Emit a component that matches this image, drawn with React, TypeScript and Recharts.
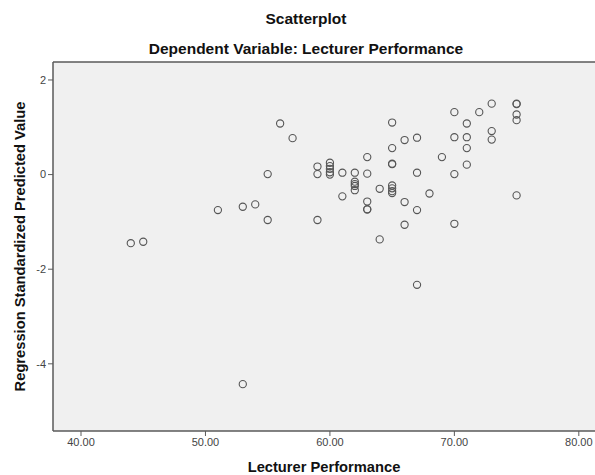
import { ScatterChart, Scatter, XAxis, YAxis, ReferenceLine, CartesianGrid, Label } from "recharts";

// Lecturer Performance (x) vs Regression Standardized Predicted Value (y)
const performance = [
  44, 45, 51, 53, 53, 54, 55, 55, 56, 57, 59, 59, 59,
  60, 60, 60, 60, 60, 61, 61, 62, 62, 62, 62, 62, 63, 63, 63, 63, 63,
  64, 64, 65, 65, 65, 65, 65, 65, 65, 65, 66, 66, 66,
  67, 67, 67, 67, 68, 69, 70, 70, 70, 70, 71, 71, 71, 71,
  72, 73, 73, 73, 75, 75, 75, 75, 75,
];
const predicted = [
  -1.45, -1.42, -0.75, -0.68, -4.43, -0.63, 0.01, -0.96, 1.08, 0.77, 0.17, 0.01, -0.96,
  0.25, 0.18, 0.12, 0.05, 0.0, 0.04, -0.46, 0.04, -0.15, -0.2, -0.24, -0.33, 0.37, 0.02, -0.57, -0.73, -0.74,
  -0.3, -1.37, 1.1, 0.56, 0.22, 0.23, -0.23, -0.29, -0.35, -0.39, 0.73, -0.58, -1.06,
  0.78, 0.04, -0.75, -2.33, -0.4, 0.37, 1.32, 0.79, 0.01, -1.04, 1.08, 0.79, 0.56, 0.21,
  1.32, 1.5, 0.92, 0.74, 1.5, 1.49, 1.27, 1.15, -0.44,
];

const xTicks = [40, 50, 60, 70, 80];
const yTicks = [-4, -2, 0, 2];
const xDomain = [37.75, 81.3];
const yDomain = [-5.42, 2.38];

const points = performance.map((x, i) => ({ x, y: predicted[i] }));

const font = '"Liberation Sans", Arial, sans-serif';
const frame = "#5a5a5a";

export default function App() {
  return (
    <div style={{ position: "absolute", left: 0, top: 0, width: 595, height: 475, background: "#fff", fontFamily: font }}>
      <div style={{ position: "absolute", left: 0, width: 612, top: 10, textAlign: "center", fontSize: 15.5, fontWeight: "bold", color: "#111" }}>
        Scatterplot
      </div>
      <div style={{ position: "absolute", left: 0, width: 612, top: 40, textAlign: "center", fontSize: 15.5, fontWeight: "bold", color: "#111" }}>
        Dependent Variable: Lecturer Performance
      </div>
      <ScatterChart
        width={595}
        height={475}
        margin={{ top: 62, right: 0, bottom: 0, left: 0 }}
        style={{ position: "absolute", left: 0, top: 0 }}
      >
        <CartesianGrid fill="#f0f0f0" horizontal={false} vertical={false} />
        <XAxis
          type="number"
          dataKey="x"
          domain={xDomain}
          ticks={xTicks}
          allowDataOverflow
          tickFormatter={(v) => v.toFixed(2)}
          tick={{ fontSize: 11, fill: "#444", fontFamily: font }}
          tickSize={5}
          tickLine={{ stroke: frame }}
          axisLine={{ stroke: frame, strokeWidth: 1.5 }}
          height={44}
        >
          <Label
            value="Lecturer Performance"
            position="insideBottom"
            offset={3}
            style={{ fontSize: 14.7, fontWeight: "bold", fill: "#111", fontFamily: font }}
          />
        </XAxis>
        <YAxis
          type="number"
          dataKey="y"
          domain={yDomain}
          ticks={yTicks}
          allowDataOverflow
          tick={{ fontSize: 11, fill: "#444", fontFamily: font }}
          tickSize={5}
          tickLine={{ stroke: frame }}
          axisLine={{ stroke: frame, strokeWidth: 1.5 }}
          width={53}
        >
          <Label
            value="Regression Standardized Predicted Value"
            angle={-90}
            position="insideLeft"
            offset={20}
            style={{ textAnchor: "middle", fontSize: 14.7, fontWeight: "bold", fill: "#111", fontFamily: font }}
          />
        </YAxis>
        <ReferenceLine y={yDomain[1]} stroke={frame} strokeWidth={1.5} ifOverflow="extendDomain" />
        <Scatter
          data={points}
          isAnimationActive={false}
          shape={(p: any) => <circle cx={p.cx} cy={p.cy} r={3.6} fill="none" stroke="#555" strokeWidth={1.1} />}
        />
      </ScatterChart>
    </div>
  );
}
